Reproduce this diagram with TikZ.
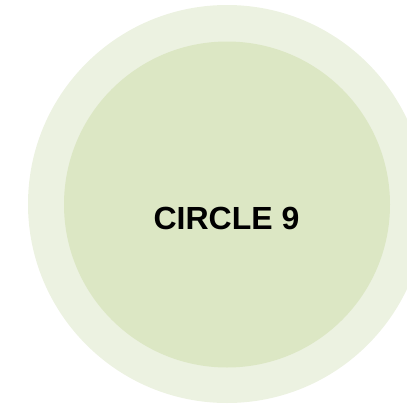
\documentclass[tikz,border=0pt]{standalone}
\usepackage{fontspec}
\setmainfont{Liberation Sans}
\definecolor{outerc}{RGB}{236,242,225}
\definecolor{innerc}{RGB}{220,231,196}
\begin{document}
\begin{tikzpicture}[x=1pt,y=-1pt,
  ring/.style={circle,inner sep=0pt,draw=none}]
\useasboundingbox (0,0) rectangle (407,407);
\begin{scope}
\clip (0,0) rectangle (407,407);
\node[ring,fill=outerc,minimum size=398pt] (outer) at (227,204) {};
\node[ring,fill=innerc,minimum size=326pt] (inner) at (227,204.5) {};
\end{scope}
\node[font=\fontsize{32}{36}\selectfont\bfseries,inner sep=0pt,anchor=base] (label) at (226.5,229) {CIRCLE 9};
\end{tikzpicture}
\end{document}
